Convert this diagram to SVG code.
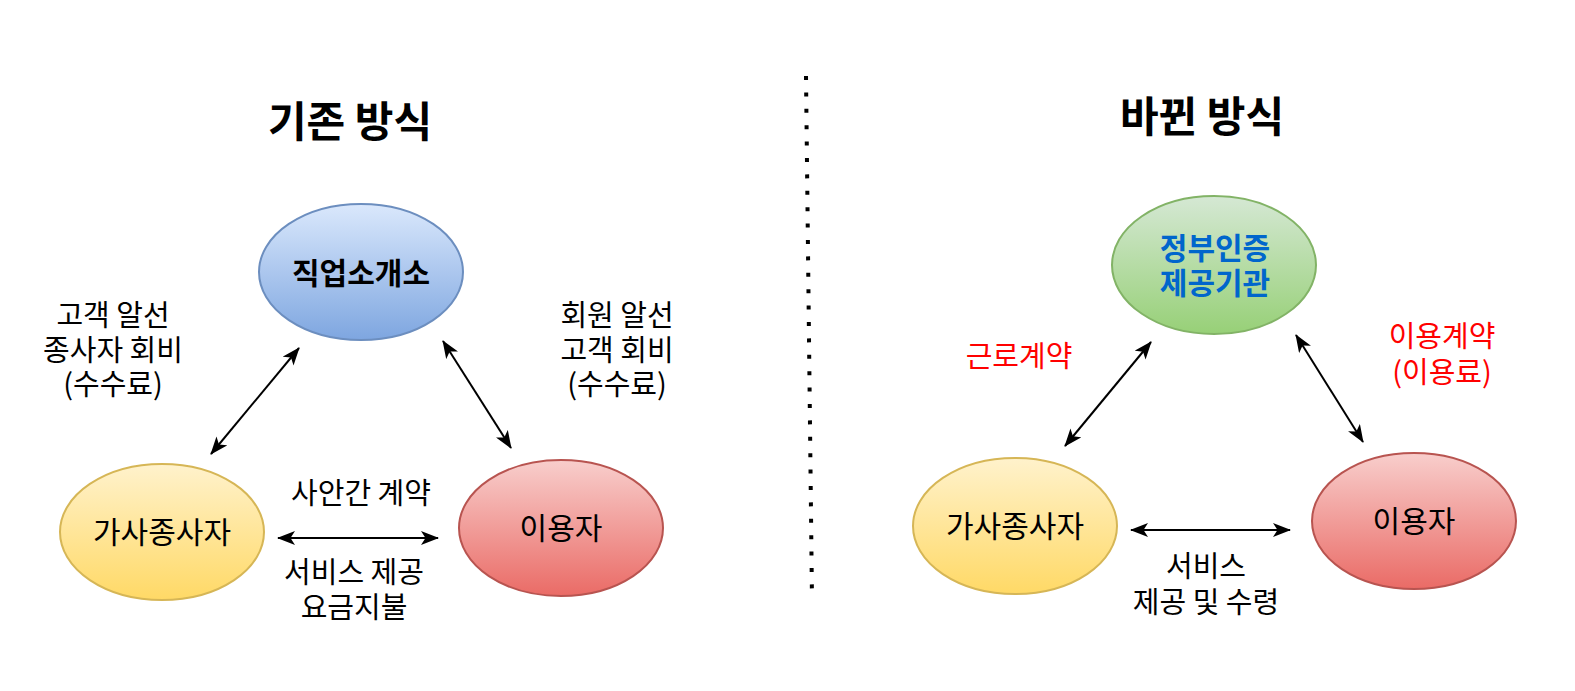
<svg xmlns="http://www.w3.org/2000/svg" width="1575" height="691" viewBox="0 0 1575 691">
<style>
text{font-family:"Noto Sans CJK KR","Noto Sans",sans-serif;text-anchor:middle;dominant-baseline:central}
.t{font-size:42px;font-weight:bold;fill:#000}
.n{font-size:30px;fill:#000}
.b{font-size:30px;font-weight:bold;fill:#000}
.bl{font-size:30px;font-weight:bold;fill:#0066CC}
.r{font-size:29px;fill:#FF0000}
.l{font-size:29px;fill:#000}
.c{fill:none;stroke:#000;stroke-width:2;marker-start:url(#ah);marker-end:url(#ah)}
</style>
<defs>
<linearGradient id="gB" x1="0" y1="0" x2="0" y2="1"><stop offset="0" stop-color="#dae8fc"/><stop offset="1" stop-color="#7ea6e0"/></linearGradient>
<linearGradient id="gY" x1="0" y1="0" x2="0" y2="1"><stop offset="0" stop-color="#fff2cc"/><stop offset="1" stop-color="#ffd966"/></linearGradient>
<linearGradient id="gR" x1="0" y1="0" x2="0" y2="1"><stop offset="0" stop-color="#f8cecc"/><stop offset="1" stop-color="#ea6b66"/></linearGradient>
<linearGradient id="gG" x1="0" y1="0" x2="0" y2="1"><stop offset="0" stop-color="#d5e8d4"/><stop offset="1" stop-color="#97d077"/></linearGradient>
<marker id="ah" viewBox="0 0 18 14" refX="17" refY="7" markerWidth="18" markerHeight="14" markerUnits="userSpaceOnUse" orient="auto-start-reverse"><path d="M0,0 L18,7 L0,14 L4.5,7 Z" fill="#000"/></marker>
</defs>
<text class="t" x="350" y="118">기존 방식</text>
<text class="t" x="1202" y="113">바뀐 방식</text>
<line x1="806" y1="76" x2="812" y2="600" stroke="#000" stroke-width="4" stroke-dasharray="4 12.4"/>
<g id="n1"><ellipse cx="361" cy="272" rx="102" ry="68" fill="url(#gB)" stroke="#6c8ebf" stroke-width="2"/><text class="b" x="361" y="271">직업소개소</text></g>
<g id="n2"><ellipse cx="162" cy="532" rx="102" ry="68" fill="url(#gY)" stroke="#d6b656" stroke-width="2"/><text class="n" x="162" y="530">가사종사자</text></g>
<g id="n3"><ellipse cx="561" cy="528" rx="102" ry="68" fill="url(#gR)" stroke="#b85450" stroke-width="2"/><text class="n" x="561" y="526">이용자</text></g>
<g id="n4"><ellipse cx="1214" cy="265" rx="102" ry="69" fill="url(#gG)" stroke="#82b366" stroke-width="2"/><text class="bl" x="1215" y="246">정부인증<tspan x="1215" dy="35">제공기관</tspan></text></g>
<g id="n5"><ellipse cx="1015" cy="526" rx="102" ry="68" fill="url(#gY)" stroke="#d6b656" stroke-width="2"/><text class="n" x="1015" y="524">가사종사자</text></g>
<g id="n6"><ellipse cx="1414" cy="521" rx="102" ry="68" fill="url(#gR)" stroke="#b85450" stroke-width="2"/><text class="n" x="1414" y="519">이용자</text></g>
<g id="connectors">
<line class="c" x1="211" y1="454" x2="299" y2="348"/>
<line class="c" x1="443" y1="341" x2="511" y2="448"/>
<line class="c" x1="278" y1="538" x2="438" y2="538"/>
<line class="c" x1="1065" y1="446" x2="1151" y2="342"/>
<line class="c" x1="1296" y1="335" x2="1363" y2="442"/>
<line class="c" x1="1131" y1="530" x2="1290" y2="530"/>
</g>
<g id="labels">
<text class="l" x="113" y="313">고객 알선<tspan x="113" dy="35">종사자 회비</tspan><tspan x="113" dy="34">(수수료)</tspan></text>
<text class="l" x="617" y="313">회원 알선<tspan x="617" dy="35">고객 회비</tspan><tspan x="617" dy="34">(수수료)</tspan></text>
<text class="l" x="361" y="491">사안간 계약</text>
<text class="l" x="354" y="570">서비스 제공<tspan x="354" dy="35">요금지불</tspan></text>
<text class="r" x="1019" y="354">근로계약</text>
<text class="r" x="1442" y="334">이용계약<tspan x="1442" dy="36">(이용료)</tspan></text>
<text class="l" x="1206" y="564">서비스<tspan x="1206" dy="36">제공 및 수령</tspan></text>
</g>
</svg>
